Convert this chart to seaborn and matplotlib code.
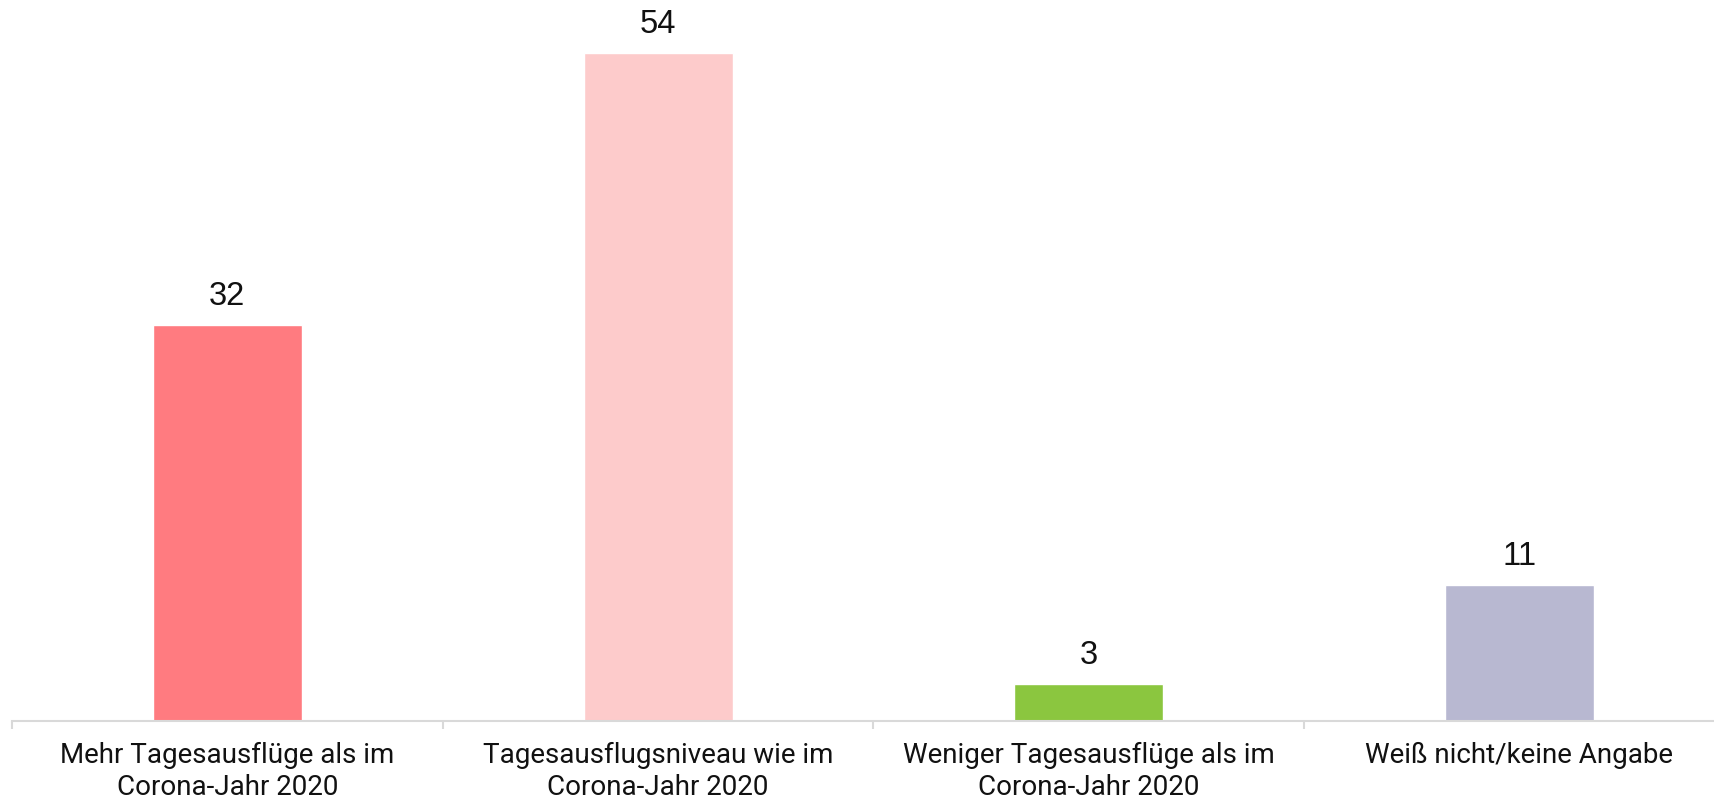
import matplotlib
matplotlib.use("Agg")
import matplotlib.pyplot as plt
import seaborn as sns
import pandas as pd

categories = [
    "Mehr Tagesausflüge als im\nCorona-Jahr 2020",
    "Tagesausflugsniveau wie im\nCorona-Jahr 2020",
    "Weniger Tagesausflüge als im\nCorona-Jahr 2020",
    "Weiß nicht/keine Angabe",
]
values = [32, 54, 3, 11]
colors = ["#FF7B80", "#FDCBCB", "#8BC63F", "#B8B8D1"]

df = pd.DataFrame({"category": categories, "value": values})

sns.set_style("white")
plt.rcParams["font.family"] = ["Roboto", "DejaVu Sans"]

fig = plt.figure(figsize=(17.14, 8.07), dpi=100)
ax = fig.add_axes([12 / 1714, 0.106, 4 * 430.7 / 1714, 0.894])

sns.barplot(data=df, x="category", y="value", hue="category", palette=colors,
            width=0.346, legend=False, ax=ax, saturation=1)

for container in ax.containers:
    ax.bar_label(container, padding=9.5, fontsize=23.5, family="Liberation Sans", color="#111111")

ax.set_xlim(-0.5, 3.5)
ax.set_ylim(0, 58.3)
ax.set_xlabel("")
ax.set_ylabel("")
ax.set_yticks([])
for side in ["top", "left", "right"]:
    ax.spines[side].set_visible(False)
ax.spines["bottom"].set_color("#D9D9D9")
ax.spines["bottom"].set_linewidth(1.5)

ax.set_xticks([-0.5, 0.5, 1.5, 2.5, 3.5], minor=True)
ax.tick_params(axis="x", which="minor", length=5.8, width=1.5, color="#D9D9D9", bottom=True)
ax.tick_params(axis="x", which="major", length=0, pad=15, labelsize=20, labelcolor="#111111")

fig.savefig("out.png", dpi=100)
